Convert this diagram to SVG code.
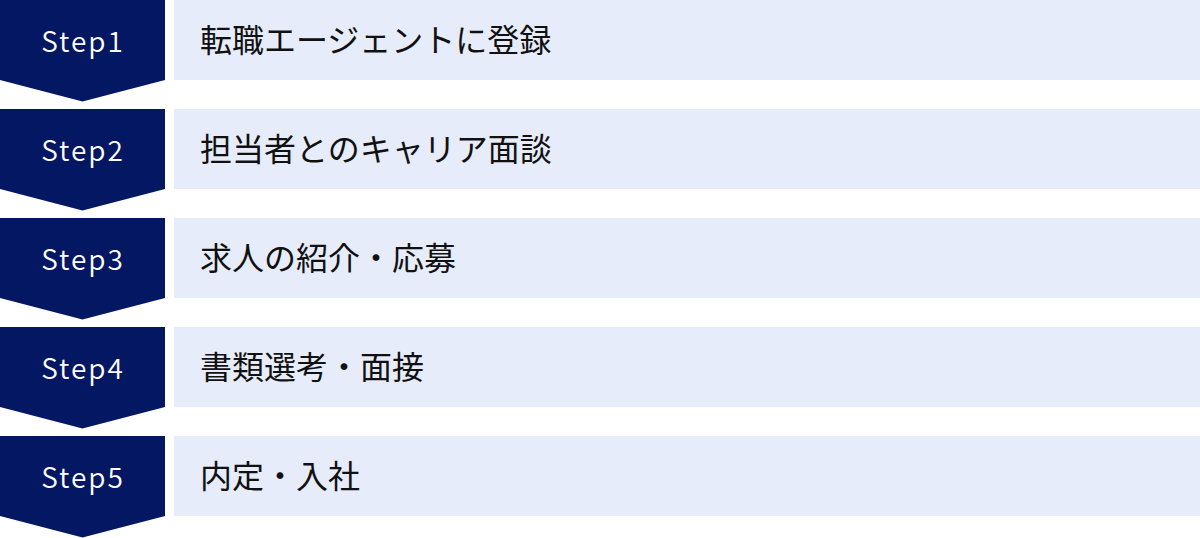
<svg xmlns="http://www.w3.org/2000/svg" width="1200" height="538" viewBox="0 0 1200 538">
<style>
.badge{fill:#041762}
.bar{fill:#e6ecf9}
.st{font-family:"Noto Sans CJK JP","Noto Sans",sans-serif;font-size:28px;font-weight:350;fill:#ffffff;text-anchor:middle;letter-spacing:2px}
.lb{font-family:"Noto Sans CJK JP",sans-serif;font-size:32px;fill:#111111}
</style>
<defs>
<path id="chev" d="M0 0H165V80L82.5 101.5L0 80Z"/>
</defs>
<rect width="1200" height="538" fill="#ffffff"/>
<g id="connectors"></g>
<g id="step1">
<use href="#chev" class="badge"/>
<rect class="bar" x="174" y="0" width="1026" height="80"/>
<text class="st" x="83" y="52">Step1</text>
<text class="lb" x="200" y="51.5">転職エージェントに登録</text>
</g>
<g id="step2" transform="translate(0,109)">
<use href="#chev" class="badge"/>
<rect class="bar" x="174" y="0" width="1026" height="80"/>
<text class="st" x="83" y="52">Step2</text>
<text class="lb" x="200" y="51.5">担当者とのキャリア面談</text>
</g>
<g id="step3" transform="translate(0,218)">
<use href="#chev" class="badge"/>
<rect class="bar" x="174" y="0" width="1026" height="80"/>
<text class="st" x="83" y="52">Step3</text>
<text class="lb" x="200" y="51.5">求人の紹介・応募</text>
</g>
<g id="step4" transform="translate(0,327)">
<use href="#chev" class="badge"/>
<rect class="bar" x="174" y="0" width="1026" height="80"/>
<text class="st" x="83" y="52">Step4</text>
<text class="lb" x="200" y="51.5">書類選考・面接</text>
</g>
<g id="step5" transform="translate(0,436)">
<use href="#chev" class="badge"/>
<rect class="bar" x="174" y="0" width="1026" height="80"/>
<text class="st" x="83" y="52">Step5</text>
<text class="lb" x="200" y="51.5">内定・入社</text>
</g>
</svg>
